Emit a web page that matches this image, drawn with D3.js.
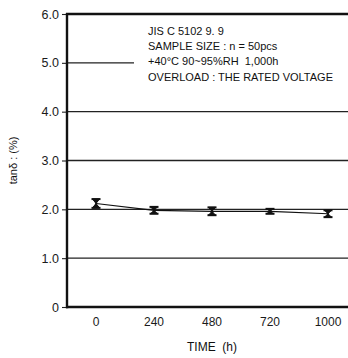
<!DOCTYPE html>
<html><head><meta charset="utf-8">
<script src="https://cdn.jsdelivr.net/npm/d3@7"></script>
<style>
html,body{margin:0;padding:0;background:#fff;}
svg{display:block;font-family:"Liberation Sans",Arial,sans-serif;}
svg text{white-space:pre;}
</style></head>
<body>
<script>
// ---- data ----
const categories = ["0", "240", "480", "720", "1000"];
const meanValues = [2.12, 1.98, 1.96, 1.96, 1.91];
const errValues  = [0.09, 0.07, 0.08, 0.05, 0.07];
const yTicks = [0, 1, 2, 3, 4, 5, 6];
const yTickLabels = ["0", "1.0", "2.0", "3.0", "4.0", "5.0", "6.0"];
const noteLines = ["JIS C 5102 9. 9", "SAMPLE SIZE : n = 50pcs", "+40\u00b0C 90~95%RH  1,000h", "OVERLOAD : THE RATED VOLTAGE"];
const xTitle = "TIME  (h)";
const yTitle = "tan\u03b4 : (%)";

const W = 348, H = 358;
const mLeft = 67, mTop = 14, mBottom = 307;

const svg = d3.select("body").append("svg").attr("width", W).attr("height", H);

const x = d3.scaleBand().domain(categories).range([mLeft, mLeft + 58 * categories.length]).paddingInner(0).paddingOuter(0);
const y = d3.scaleLinear().domain([0, 6]).range([mBottom, mTop]);
const cx = c => x(c) + x.bandwidth() / 2;

// gridlines
svg.append("g").selectAll("line").data(yTicks.filter(t => t > 0 && t < 6)).join("line")
  .attr("x1", mLeft).attr("x2", W).attr("y1", d => y(d)).attr("y2", d => y(d))
  .attr("stroke", "#222").attr("stroke-width", d => d === 3 ? 1.6 : 1.1);

// white box behind note text
svg.append("rect").attr("x", 134).attr("y", 22).attr("width", W - 134).attr("height", 64).attr("fill", "#fff");

// y axis
const yAxis = d3.axisLeft(y).tickValues(yTicks).tickFormat((d, i) => yTickLabels[i]).tickSize(5).tickPadding(3);
const gy = svg.append("g").attr("transform", `translate(${mLeft},0)`).call(yAxis);
gy.select(".domain").remove();
gy.selectAll(".tick line").attr("stroke", "#222").attr("stroke-width", 1.1);
gy.selectAll(".tick text").attr("font-size", 12.5).attr("fill", "#1a1a1a").attr("font-family", "Liberation Sans, Arial, sans-serif");

// x axis labels
const xAxis = d3.axisBottom(x).tickSize(0).tickPadding(10);
const gx = svg.append("g").attr("transform", `translate(0,${mBottom})`).call(xAxis);
gx.select(".domain").remove();
gx.selectAll(".tick text").attr("font-size", 12).attr("fill", "#1a1a1a").attr("font-family", "Liberation Sans, Arial, sans-serif");

// frame: top, left, bottom
svg.append("line").attr("x1", mLeft - 1).attr("x2", W).attr("y1", y(6)).attr("y2", y(6)).attr("stroke", "#111").attr("stroke-width", 2.6);
svg.append("line").attr("x1", mLeft).attr("x2", mLeft).attr("y1", y(6) - 1).attr("y2", y(0) + 1.3).attr("stroke", "#111").attr("stroke-width", 2.4);
svg.append("line").attr("x1", mLeft - 1).attr("x2", W).attr("y1", y(0)).attr("y2", y(0)).attr("stroke", "#111").attr("stroke-width", 2.6);

// data line
const pts = categories.map((c, i) => ({c, v: meanValues[i], e: errValues[i]}));
svg.append("path").datum(pts)
  .attr("d", d3.line().x(d => cx(d.c)).y(d => y(d.v)))
  .attr("fill", "none").attr("stroke", "#111").attr("stroke-width", 1.2);

// error bar markers (hourglass)
const eb = svg.append("g").selectAll("g").data(pts).join("g");
const hw = 4.5;
eb.append("path")
  .attr("d", d => {
    const xc = cx(d.c), yt = y(d.v + d.e), yb = y(d.v - d.e), ym = y(d.v);
    return `M${xc - 3.5},${yt} L${xc + 3.5},${yt} L${xc},${ym} Z M${xc - 3.5},${yb} L${xc + 3.5},${yb} L${xc},${ym} Z`;
  })
  .attr("fill", "#111").attr("stroke", "#111").attr("stroke-width", 1);
eb.append("line").attr("x1", d => cx(d.c) - hw).attr("x2", d => cx(d.c) + hw)
  .attr("y1", d => y(d.v + d.e)).attr("y2", d => y(d.v + d.e)).attr("stroke", "#111").attr("stroke-width", 2);
eb.append("line").attr("x1", d => cx(d.c) - hw).attr("x2", d => cx(d.c) + hw)
  .attr("y1", d => y(d.v - d.e)).attr("y2", d => y(d.v - d.e)).attr("stroke", "#111").attr("stroke-width", 2);
eb.append("line").attr("x1", d => cx(d.c)).attr("x2", d => cx(d.c))
  .attr("y1", d => y(d.v + d.e)).attr("y2", d => y(d.v - d.e)).attr("stroke", "#111").attr("stroke-width", 1.5);

// note text
svg.append("g").selectAll("text").data(noteLines).join("text")
  .attr("x", 148).attr("y", (d, i) => 35 + i * 15.2)
  .attr("font-size", 11).attr("fill", "#111").text(d => d);

// axis titles
svg.append("text").attr("x", cx("480")).attr("y", 351).attr("text-anchor", "middle")
  .attr("font-size", 12).attr("fill", "#111").text(xTitle);
svg.append("text").attr("transform", `translate(17,${(mTop + mBottom) / 2}) rotate(-90)`)
  .attr("text-anchor", "middle").attr("font-size", 11).attr("fill", "#111").text(yTitle);
</script>
</body></html>
